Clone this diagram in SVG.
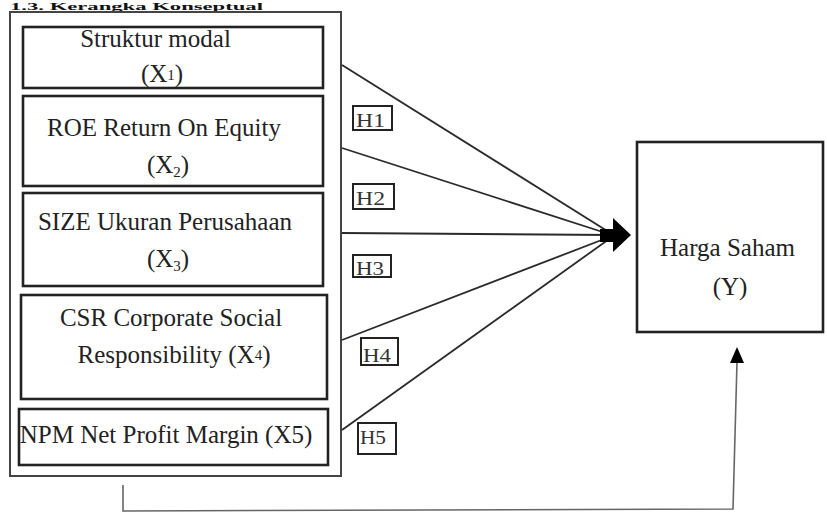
<svg xmlns="http://www.w3.org/2000/svg" width="827" height="515" viewBox="0 0 827 515">
<defs>
<style>
.t{font-family:"Liberation Serif","Times New Roman",serif;font-size:25px;fill:#222;}
.h{font-family:"Liberation Serif","Times New Roman",serif;font-size:19px;fill:#333;}
.title{font-family:"Liberation Serif","Times New Roman",serif;font-size:11px;font-weight:bold;fill:#111;}
.box{fill:#fff;stroke:#222;stroke-width:2.6;}
.outer{fill:#fff;stroke:#444;stroke-width:2;}
.hbox{fill:#fff;stroke:#222;stroke-width:2;}
.ln{stroke:#2a2a2a;stroke-width:1.8;fill:none;}
.fb{stroke:#666;stroke-width:1.6;fill:none;}
</style>
</defs>
<rect width="827" height="515" fill="#fff"/>
<text class="title" x="10" y="10" textLength="253" lengthAdjust="spacingAndGlyphs">1.3. Kerangka Konseptual</text>

<g id="independent-group">
<rect class="outer" x="10" y="12" width="331" height="464"/>
</g>

<g id="x1">
<rect class="box" x="23" y="27" width="300" height="61"/>
<text class="t" x="155.5" y="47" text-anchor="middle">Struktur modal</text>
<text class="t" x="162" y="82" text-anchor="middle">(X<tspan font-size="15" dy="-2">1</tspan><tspan dy="2">)</tspan></text>
</g>

<g id="x2">
<rect class="box" x="23" y="96" width="300" height="90"/>
<text class="t" x="164" y="136" text-anchor="middle">ROE Return On Equity</text>
<text class="t" x="168" y="173" text-anchor="middle">(X<tspan font-size="15" dy="4">2</tspan><tspan dy="-4">)</tspan></text>
</g>

<g id="x3">
<rect class="box" x="23" y="193" width="300" height="93"/>
<text class="t" x="165" y="230" text-anchor="middle">SIZE Ukuran Perusahaan</text>
<text class="t" x="168" y="267" text-anchor="middle">(X<tspan font-size="15" dy="4">3</tspan><tspan dy="-4">)</tspan></text>
</g>

<g id="x4">
<rect class="box" x="21" y="295" width="306" height="104"/>
<text class="t" x="171" y="326" text-anchor="middle">CSR Corporate Social</text>
<text class="t" x="174" y="363" text-anchor="middle">Responsibility (X<tspan font-size="15" dy="-3">4</tspan><tspan dy="3">)</tspan></text>
</g>

<g id="x5">
<rect class="box" x="19" y="409" width="309" height="56"/>
<text class="t" x="166" y="443" text-anchor="middle">NPM Net Profit Margin (X5)</text>
</g>

<g id="y">
<rect class="box" x="637" y="142" width="186" height="190"/>
<text class="t" x="727.5" y="256" text-anchor="middle">Harga Saham</text>
<text class="t" x="730" y="295" text-anchor="middle">(Y)</text>
</g>

<g id="connectors">
<line class="ln" x1="342" y1="65" x2="612" y2="234"/>
<line class="ln" x1="342" y1="148" x2="612" y2="235"/>
<line class="ln" x1="342" y1="233" x2="612" y2="235"/>
<line class="ln" x1="342" y1="340" x2="612" y2="236"/>
<line class="ln" x1="342" y1="430" x2="612" y2="237"/>
<polygon points="600,229 613,229 613,218 631,235 613,252 613,242 600,242" fill="#000"/>
<polyline class="fb" points="123,485 123,511 733,509 737,362"/>
<polygon points="737,347 744,363 730,363" fill="#000"/>
</g>

<g id="labels">
<g id="h1"><rect class="hbox" x="353" y="106" width="39" height="24"/><text class="h" x="356" y="127" textLength="29" lengthAdjust="spacingAndGlyphs">H1</text></g>
<g id="h2"><rect class="hbox" x="353" y="184" width="41" height="25"/><text class="h" x="356" y="205" textLength="29" lengthAdjust="spacingAndGlyphs">H2</text></g>
<g id="h3"><rect class="hbox" x="353" y="255" width="38" height="22"/><text class="h" x="356" y="275" textLength="28" lengthAdjust="spacingAndGlyphs">H3</text></g>
<g id="h4"><rect class="hbox" x="361" y="338" width="37" height="27"/><text class="h" x="363" y="362" textLength="28" lengthAdjust="spacingAndGlyphs">H4</text></g>
<g id="h5"><rect class="hbox" x="358" y="423" width="38" height="31"/><text class="h" x="360" y="444" textLength="26" lengthAdjust="spacingAndGlyphs">H5</text></g>
</g>
</svg>
